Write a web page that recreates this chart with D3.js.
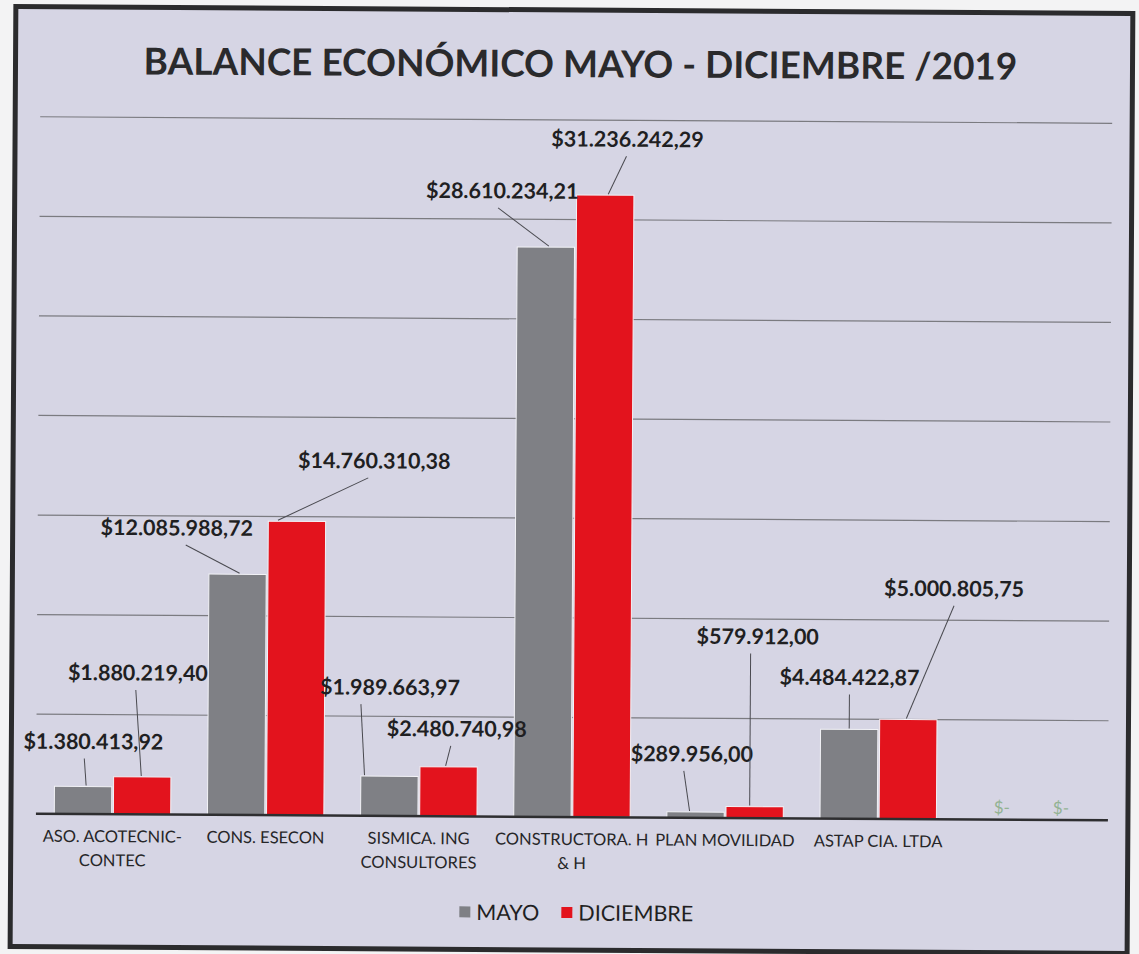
<!DOCTYPE html>
<html>
<head>
<meta charset="utf-8">
<script src="https://cdn.jsdelivr.net/npm/d3@7"></script>
<style>
  body { margin: 0; background: #f3f3f4; }
  svg { display: block; }
</style>
</head>
<body>
<div id="chart"></div>
<script>
// data
const categories = ["ASO. ACOTECNIC-CONTEC", "CONS. ESECON", "SISMICA. ING CONSULTORES",
  "CONSTRUCTORA. H & H", "PLAN MOVILIDAD", "ASTAP CIA. LTDA", ""];
const categoryLines = [["ASO. ACOTECNIC-", "CONTEC"], ["CONS. ESECON"], ["SISMICA. ING", "CONSULTORES"],
  ["CONSTRUCTORA. H", "& H"], ["PLAN MOVILIDAD"], ["ASTAP CIA. LTDA"], [""]];
const series = ["MAYO", "DICIEMBRE"];
const mayo = [1380413.92, 12085988.72, 1989663.97, 28610234.21, 289956.00, 4484422.87, 0];
const diciembre = [1880219.40, 14760310.38, 2480740.98, 31236242.29, 579912.00, 5000805.75, 0];
const yTicks = [0, 5000000, 10000000, 15000000, 20000000, 25000000, 30000000, 35000000];

// where the callouts were dragged to in the original (px from bar top centre)
const calloutMayo = [[10, -45, -9, 3], [-61, -46, 9, 2], [0, -89, -29, -25], [-44, -56, -4, 3], [-4, -58, -8, -6], [0, -52, 0, 0], [0, -12, 0, 0]];
const calloutDic = [[-5, -104, -2, -1], [77, -61, -6, -19], [8, -38, -6, -3], [22, -56, -1, 3], [2, -170, -7, -5], [45, -131, 0, -2], [0, -12, 0, 0]];

const colors = { MAYO: "#7f8085", DICIEMBRE: "#e3131d" };

const W = 1139, H = 954;
const margin = { left: 38, right: 29, top: 120, bottom: 137 };

const svg = d3.select("#chart").append("svg")
  .attr("width", W).attr("height", H);

// the scan is a little tilted
const g = svg.append("g")
  .attr("transform", `rotate(0.35 ${W / 2} ${H / 2})`);

g.append("rect")
  .attr("x", 13).attr("y", 10)
  .attr("width", 1117).attr("height", 940)
  .attr("fill", "#d6d5e4")
  .attr("stroke", "#2b2b2d")
  .attr("stroke-width", 5);

g.append("text")
  .attr("x", 578).attr("y", 77)
  .attr("text-anchor", "middle")
  .attr("font-family", "Lato")
  .attr("font-weight", "bold")
  .attr("font-size", 37)
  .attr("fill", "#2a2a2c")
  .text("BALANCE ECONÓMICO MAYO - DICIEMBRE /2019");

const x0 = d3.scaleBand()
  .domain(categories)
  .range([margin.left, W - margin.right])
  .paddingInner(0.24)
  .paddingOuter(0.12);

const x1 = d3.scaleBand()
  .domain(series)
  .range([0, x0.bandwidth()])
  .paddingInner(0.03);

const y = d3.scaleLinear()
  .domain([0, 35000000])
  .range([H - margin.bottom, margin.top]);

// gridlines
g.append("g")
  .selectAll("line")
  .data(yTicks.slice(1))
  .enter().append("line")
  .attr("x1", margin.left).attr("x2", W - margin.right)
  .attr("y1", d => y(d)).attr("y2", d => y(d))
  .attr("stroke", "#7b7b80").attr("stroke-width", 1.2);

const rows = categories.map((c, i) => ({ cat: i, values: [mayo[i], diciembre[i]] }));

const groups = g.selectAll("g.cat")
  .data(rows)
  .enter().append("g")
  .attr("class", "cat")
  .attr("transform", (d, i) => `translate(${x0(categories[i])},0)`);

groups.selectAll("rect")
  .data(d => d.values.map((v, j) => ({ s: series[j], v: v })))
  .enter().append("rect")
  .attr("x", d => x1(d.s))
  .attr("y", d => y(d.v))
  .attr("width", x1.bandwidth())
  .attr("height", d => y(0) - y(d.v))
  .attr("fill", d => colors[d.s])
  .attr("stroke", d => d.v > 0 ? "#f2f2f6" : "none")
  .attr("stroke-width", 1);

// baseline
g.append("line")
  .attr("x1", margin.left).attr("x2", W - margin.right)
  .attr("y1", y(0)).attr("y2", y(0))
  .attr("stroke", "#2e2e30").attr("stroke-width", 2.5);

// value callouts
function fmt(v) {
  if (!v) return "$-";
  const parts = v.toFixed(2).split(".");
  return "$" + parts[0].replace(/\B(?=(\d{3})+(?!\d))/g, ".") + "," + parts[1];
}

series.forEach((s, j) => {
  const vals = j === 0 ? mayo : diciembre;
  const offs = j === 0 ? calloutMayo : calloutDic;
  vals.forEach((v, i) => {
    const bx = x0(categories[i]) + x1(s) + x1.bandwidth() / 2;
    const by = y(v);
    const o = offs[i];
    const lx = bx + o[0], ly = by + o[1];
    if (v > 0) {
      g.append("line")
        .attr("x1", lx + o[2]).attr("y1", ly + 17)
        .attr("x2", bx + o[3]).attr("y2", by - 1)
        .attr("stroke", "#4a4a50").attr("stroke-width", 1);
      g.append("text")
        .attr("x", lx).attr("y", ly)
        .attr("dy", "0.35em")
        .attr("text-anchor", "middle")
        .attr("font-family", "Lato")
        .attr("font-weight", "bold")
        .attr("font-size", 21.5)
        .attr("fill", "#1f1f22")
        .text(fmt(v));
    } else {
      g.append("text")
        .attr("x", lx).attr("y", ly)
        .attr("dy", "0.35em")
        .attr("text-anchor", "middle")
        .attr("font-family", "Lato")
        .attr("font-size", 17)
        .attr("fill", "#93b393")
        .text(fmt(v));
    }
  });
});

// category labels
categoryLines.forEach((lines, i) => {
  const t = g.append("text")
    .attr("x", x0(categories[i]) + x0.bandwidth() / 2)
    .attr("y", y(0) + 28)
    .attr("text-anchor", "middle")
    .attr("font-family", "Lato")
    .attr("font-size", 16.5)
    .attr("fill", "#262628");
  lines.forEach((l, k) => {
    t.append("tspan")
      .attr("x", x0(categories[i]) + x0.bandwidth() / 2)
      .attr("dy", k === 0 ? 0 : 24)
      .text(l);
  });
});

// legend
const legend = g.append("g").attr("transform", "translate(462,913)");
const legendX = [0, 102];
series.forEach((s, j) => {
  legend.append("rect")
    .attr("x", legendX[j]).attr("y", -6)
    .attr("width", 11).attr("height", 11)
    .attr("fill", colors[s]);
  legend.append("text")
    .attr("x", legendX[j] + 17).attr("y", 0)
    .attr("dy", "0.35em")
    .attr("font-family", "Lato")
    .attr("font-size", 21.5)
    .attr("fill", "#1f1f22")
    .text(s);
});
</script>
</body>
</html>
